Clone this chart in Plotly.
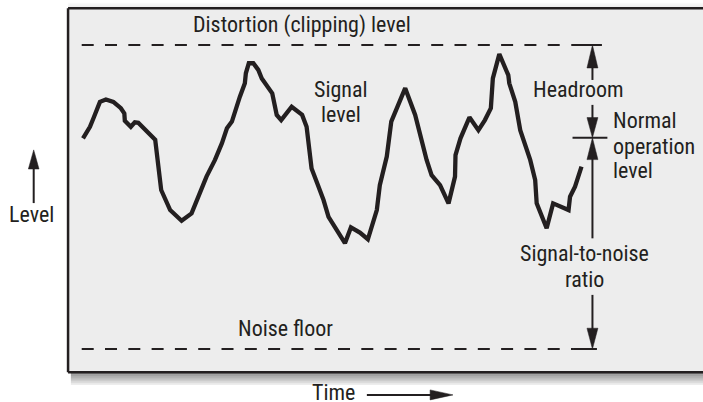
import plotly.graph_objects as go

# ---------------- data ----------------
# signal trace: time (0-100 arbitrary units), level (% : noise floor = 0, clipping = 100)
time = [0, 1.4, 2.1, 3.4, 4.6, 6.1, 7.6, 8.3, 8.4, 9.6,
        10.4, 11.1, 14.5, 15.7, 17.5, 19.8, 21.8, 22.5, 23.8, 24.8,
        26.5, 27.9, 28.9, 29.9, 31.5, 32.5, 32.7, 33.3, 34.2, 35.2,
        35.9, 38.0, 38.9, 39.8, 41.9, 44.0, 44.9, 45.9, 47.3, 48.3,
        49.3, 52.6, 53.8, 55.6, 57.2, 59.0, 59.6, 61.0, 61.9, 64.7,
        66.7, 69.0, 70.0, 71.7, 73.4, 74.7, 74.8, 75.8, 77.6, 79.4,
        80.7, 81.9, 82.3, 82.9, 83.6, 85.4, 85.6, 86.8, 87.8, 89.8,
        90.8, 91.1, 93.1, 94.4, 97.5, 97.8, 98.8, 100.1]
level = [69.3, 73.1, 75.9, 81.3, 82.1, 81.3, 79.2, 77.5, 75.1, 73.1,
         74.6, 74.4, 68.8, 52.3, 45.7, 42.2, 44.6, 47.4, 52.3, 56.7,
         62.2, 67.7, 72.6, 74.8, 83.0, 87.4, 90.7, 94.0, 94.0, 91.8,
         89.0, 84.1, 77.0, 75.3, 79.7, 77.0, 73.1, 59.4, 53.4, 49.0,
         43.5, 34.8, 40.0, 38.3, 36.1, 45.7, 53.9, 63.3, 74.8, 85.8,
         77.0, 62.2, 57.2, 53.9, 47.9, 56.7, 63.8, 69.3, 76.2, 72.0,
         75.3, 79.2, 89.0, 92.3, 97.0, 90.1, 87.4, 81.3, 72.0, 62.2,
         55.6, 47.9, 39.7, 47.9, 45.7, 50.1, 53.4, 60.0]

clip_level = 100.0      # distortion (clipping) level
normal_level = 69.5     # normal operation level
noise_level = 0.0       # noise floor

# ---------------- layout constants ----------------
W, H = 703, 402
PX_T = 4.98     # pixels per time unit
PX_L = 3.04     # pixels per level unit
X0_PX, Y0_PX = 83, 349   # pixel of time 0 / level 0
x_range = [-X0_PX / PX_T, (W - X0_PX) / PX_T]
y_range = [(Y0_PX - H) / PX_L, Y0_PX / PX_L]

INK = "#231f20"
FONT = "Roboto Condensed, Liberation Sans Narrow, Arial Narrow, Roboto, sans-serif"
FS = 22

box_left = -3.0
box_top, box_bottom = 112.1, -7.66
dash_start = -0.26
arrow_t = 102.3
head_len = 7.2
head_hw = 1.1


def px(t):   # time -> paper fraction
    return (t - x_range[0]) / (x_range[1] - x_range[0])


def py(v):   # level -> paper fraction
    return (v - y_range[0]) / (y_range[1] - y_range[0])


fig = go.Figure()

# box frame in paper coordinates (open to the right, runs past the figure edge)
BL, BR, BT, BB = px(box_left), 1.3, py(box_top), py(box_bottom)
shapes = []
for i in range(7):
    shapes.append(dict(type="rect", xref="paper", yref="paper", layer="below",
                       x0=BL + 0.004, x1=BR, y0=BB - 0.0045 * (i + 1), y1=BB,
                       line=dict(width=0), fillcolor="rgba(0,0,0,0.07)"))
for i in range(3):
    shapes.append(dict(type="rect", xref="paper", yref="paper", layer="below",
                       x0=BL, x1=BR, y0=BT, y1=BT + 0.0045 * (i + 1),
                       line=dict(width=0), fillcolor="rgba(0,0,0,0.025)"))
shapes.append(dict(type="rect", xref="paper", yref="paper", layer="below",
                   x0=BL, x1=BR, y0=BB, y1=BT,
                   line=dict(width=0), fillcolor="#ededed"))
for yy in (BT, BB):
    shapes.append(dict(type="line", xref="paper", yref="paper", layer="below",
                       x0=BL, x1=BR, y0=yy, y1=yy,
                       line=dict(color=INK, width=2.5)))
shapes.append(dict(type="line", xref="paper", yref="paper", layer="below",
                   x0=BL, x1=BL, y0=BB, y1=BT,
                   line=dict(color=INK, width=2.5)))


def seg(x, y, width=2, dash=None):
    fig.add_trace(go.Scatter(x=x, y=y, mode="lines", hoverinfo="skip",
                             line=dict(color=INK, width=width, dash=dash),
                             showlegend=False))


def head(tx, ty, dx, dy, hl, hw):
    # filled triangle with tip at (tx, ty), pointing along (dx, dy) unit direction
    bx, by = tx - dx * hl, ty - dy * hl
    ox, oy = -dy * hw, dx * hw
    fig.add_trace(go.Scatter(x=[tx, bx + ox, bx - ox, tx], y=[ty, by + oy, by - oy, ty],
                             mode="lines", fill="toself", fillcolor=INK,
                             line=dict(color=INK, width=0.5), hoverinfo="skip",
                             showlegend=False))


# dashed reference levels with solid ends at the dimension line
seg([dash_start, 98.1], [clip_level, clip_level], 2, "12px,11.3px")
seg([98.1, 104.2], [clip_level, clip_level], 2)
seg([dash_start, 98.4], [noise_level, noise_level], 2, "12px,11.3px")
seg([98.4, 103.2], [noise_level, noise_level], 2)
seg([98.3, 105.3], [normal_level, normal_level], 2)

# signal
fig.add_trace(go.Scatter(x=time, y=level, mode="lines", hoverinfo="skip",
                         line=dict(color=INK, width=4.3), showlegend=False))

# dimension arrows
seg([arrow_t, arrow_t], [88.5, clip_level - head_len + 1], 2)
head(arrow_t, clip_level, 0, 1, head_len * 1.05, head_hw)
seg([arrow_t, arrow_t], [80.3, normal_level + head_len - 1], 2)
head(arrow_t, normal_level, 0, -1, head_len * 0.92, head_hw)
seg([arrow_t, arrow_t], [36.4, normal_level - head_len + 1], 2)
head(arrow_t, normal_level, 0, 1, head_len, head_hw)
seg([arrow_t, arrow_t], [17.8, noise_level + head_len - 1], 2)
head(arrow_t, noise_level, 0, -1, head_len * 0.95, head_hw)

# axis arrows outside the box
lvl_t = -9.9
seg([lvl_t, lvl_t], [48.0, 60.0], 2)
head(lvl_t, 65.5, 0, 1, 6.3, 1.07)
time_l = -15.1
seg([57.0, 70.0], [time_l, time_l], 2)
head(74.3, time_l, 1, 0, 4.6, 1.64)

ann = []


def txt(t, x, y, xanchor="center"):
    ann.append(dict(text=t, x=x, y=y, xref="x", yref="y", showarrow=False,
                    xanchor=xanchor, yanchor="middle",
                    font=dict(family=FONT, size=FS, color=INK)))


txt("Distortion (clipping) level", 44.0, 106.6)
txt("Signal", 51.9, 85.4)
txt("level", 51.9, 77.3)
txt("Headroom", 99.4, 85.3)
txt("Normal", 105.95, 75.2, "left")
txt("operation", 105.95, 66.6, "left")
txt("level", 105.95, 58.7, "left")
txt("Signal-to-noise", 100.8, 31.3)
txt("ratio", 100.8, 22.8)
txt("Noise floor", 40.6, 6.8)
txt("Level", -10.4, 44.1)
txt("Time", 50.4, -14.4)

fig.update_layout(
    width=W, height=H, margin=dict(l=0, r=0, t=0, b=0),
    paper_bgcolor="white", plot_bgcolor="rgba(0,0,0,0)",
    xaxis=dict(range=x_range, visible=False, fixedrange=True),
    yaxis=dict(range=y_range, visible=False, fixedrange=True),
    shapes=shapes, annotations=ann, showlegend=False,
)

fig.write_html("out.html", config={"displayModeBar": False},
               post_script=("document.documentElement.style.overflow='hidden';"
                            "document.body.style.margin='0';"
                            "document.body.style.overflow='hidden';"))
